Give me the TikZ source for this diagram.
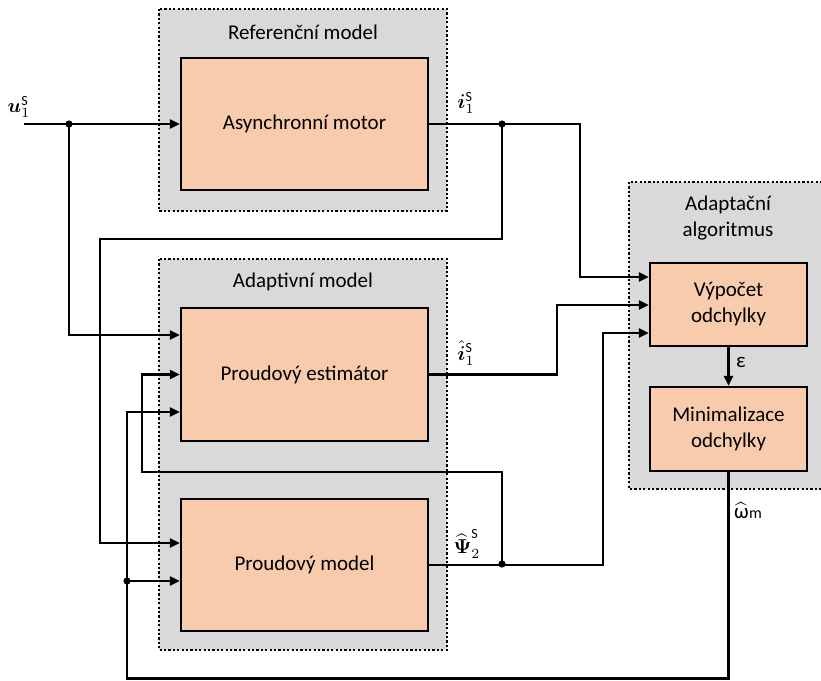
\documentclass[tikz,border=0pt]{standalone}
\usepackage{amsmath}
\usepackage{bm}
\usepackage{graphicx}
\usepackage{fontspec}
\setmainfont{Carlito}
\usetikzlibrary{arrows.meta,calc}
\definecolor{grayfill}{HTML}{D9D9D9}
\definecolor{orangefill}{HTML}{F8CBAD}
\newcommand{\biglab}[1]{\scalebox{2.0}{\fontsize{10}{12}\selectfont$#1$}}
\begin{document}
\begin{tikzpicture}[x=1pt,y=-1pt,
  font=\fontsize{21}{26}\selectfont,
  groupbox/.style={draw=black, fill=grayfill, line width=2.2pt, dash pattern=on 2.2pt off 2.2pt},
  blockbox/.style={draw=black, fill=orangefill, line width=2.3pt, minimum width=247pt, minimum height=132pt, align=center, inner sep=0pt},
  smallbox/.style={blockbox, minimum width=157pt, minimum height=83pt},
  wire/.style={line width=2.3pt},
  arr/.style={wire, -{Triangle[length=10pt,width=9pt]}},
  lbl/.style={inner sep=0pt}
]
\useasboundingbox (0,0) rectangle (821,680);

% group boxes
\path[groupbox] (159,9) rectangle (447,211);
\path[groupbox] (159,259) rectangle (447,650);
\path[groupbox] (629,182) rectangle (830,489);

\node[lbl] (tref) at (303,32) {Referenční model};
\node[lbl] (tada) at (303,282) {Adaptivní model};
\node[lbl, align=center] (talg) at (728,218) {Adaptační\\algoritmus};

% blocks
\node[blockbox] (motor) at (304.5,124) {Asynchronní motor};
\node[blockbox, minimum height=133pt] (estim) at (304.5,374.5) {Proudový estimátor};
\node[blockbox] (model) at (304.5,565) {Proudový model};
\node[smallbox] (vyp) at (728.5,304.5) {Výpočet\\odchylky};
\node[smallbox, minimum height=84pt] (mini) at (728.5,429) {Minimalizace\\odchylky};

% coordinates
\coordinate (ustart) at (24,124);
\coordinate (ju) at (69,124);
\coordinate (yu) at (0,335);
\coordinate (ji) at (502,124);
\coordinate (yfb) at (0,239);
\coordinate (xfb) at (100,0);
\coordinate (ymA) at (0,543);
\coordinate (xa) at (580,0);
\coordinate (ya) at (0,277);
\coordinate (xb) at (557,0);
\coordinate (yb) at (0,305);
\coordinate (xc) at (603,0);
\coordinate (yc) at (0,333);
\coordinate (jp) at (502,564);
\coordinate (ypf) at (0,472);
\coordinate (xpf) at (142,0);
\coordinate (ybot) at (0,678.5);
\coordinate (xw) at (127,0);
\coordinate (yw) at (0,412);
\coordinate (jw) at (127,581);

% u
\draw[arr] (ustart) -- (motor.west);
\draw[arr] (ju) |- (yu -| estim.west);
% i1S
\draw[arr] (motor.east) -| (xa |- ya) -- (ya -| vyp.west);
\draw[arr] (ji) |- (yfb -| xfb) |- (ymA -| model.west);
% i1 hat
\draw[arr] (estim.east) -| (xb |- yb) -- (yb -| vyp.west);
% Psi
\draw[arr] (model.east) -| (xc |- yc) -- (yc -| vyp.west);
\draw[arr] (jp) |- (ypf -| xpf) |- (estim.west);
% epsilon
\draw[arr] (vyp.south) -- (mini.north);
% omega
\draw[arr] (mini.south) |- (ybot -| xw) |- (yw -| estim.west);
\draw[arr] (jw) -- (jw -| model.west);

% junction dots
\fill (ju) circle (3.6pt);
\fill (ji) circle (3.6pt);
\fill (jp) circle (3.6pt);
\fill (jw) circle (3.6pt);

% labels
\node[lbl] (lu) at (19,107) {\biglab{\bm{u}_1^{\mathrm{S}}}};
\node[lbl] (li) at (466,103) {\biglab{\bm{i}_1^{\mathrm{S}}}};
\node[lbl] (lih) at (466,353) {\biglab{\hat{\bm{i}}_1^{\mathrm{S}}}};
\node[lbl] (lp) at (467,544) {\biglab{\widehat{\bm{\Psi}}_2^{\mathrm{S}}}};
\node[lbl] (le) at (741,362) {ε};
\node[lbl] (lw) at (748,511) {$\widehat{\text{ω}}$\kern0.5pt{\fontsize{16}{18}\selectfont m}};
\end{tikzpicture}
\end{document}
